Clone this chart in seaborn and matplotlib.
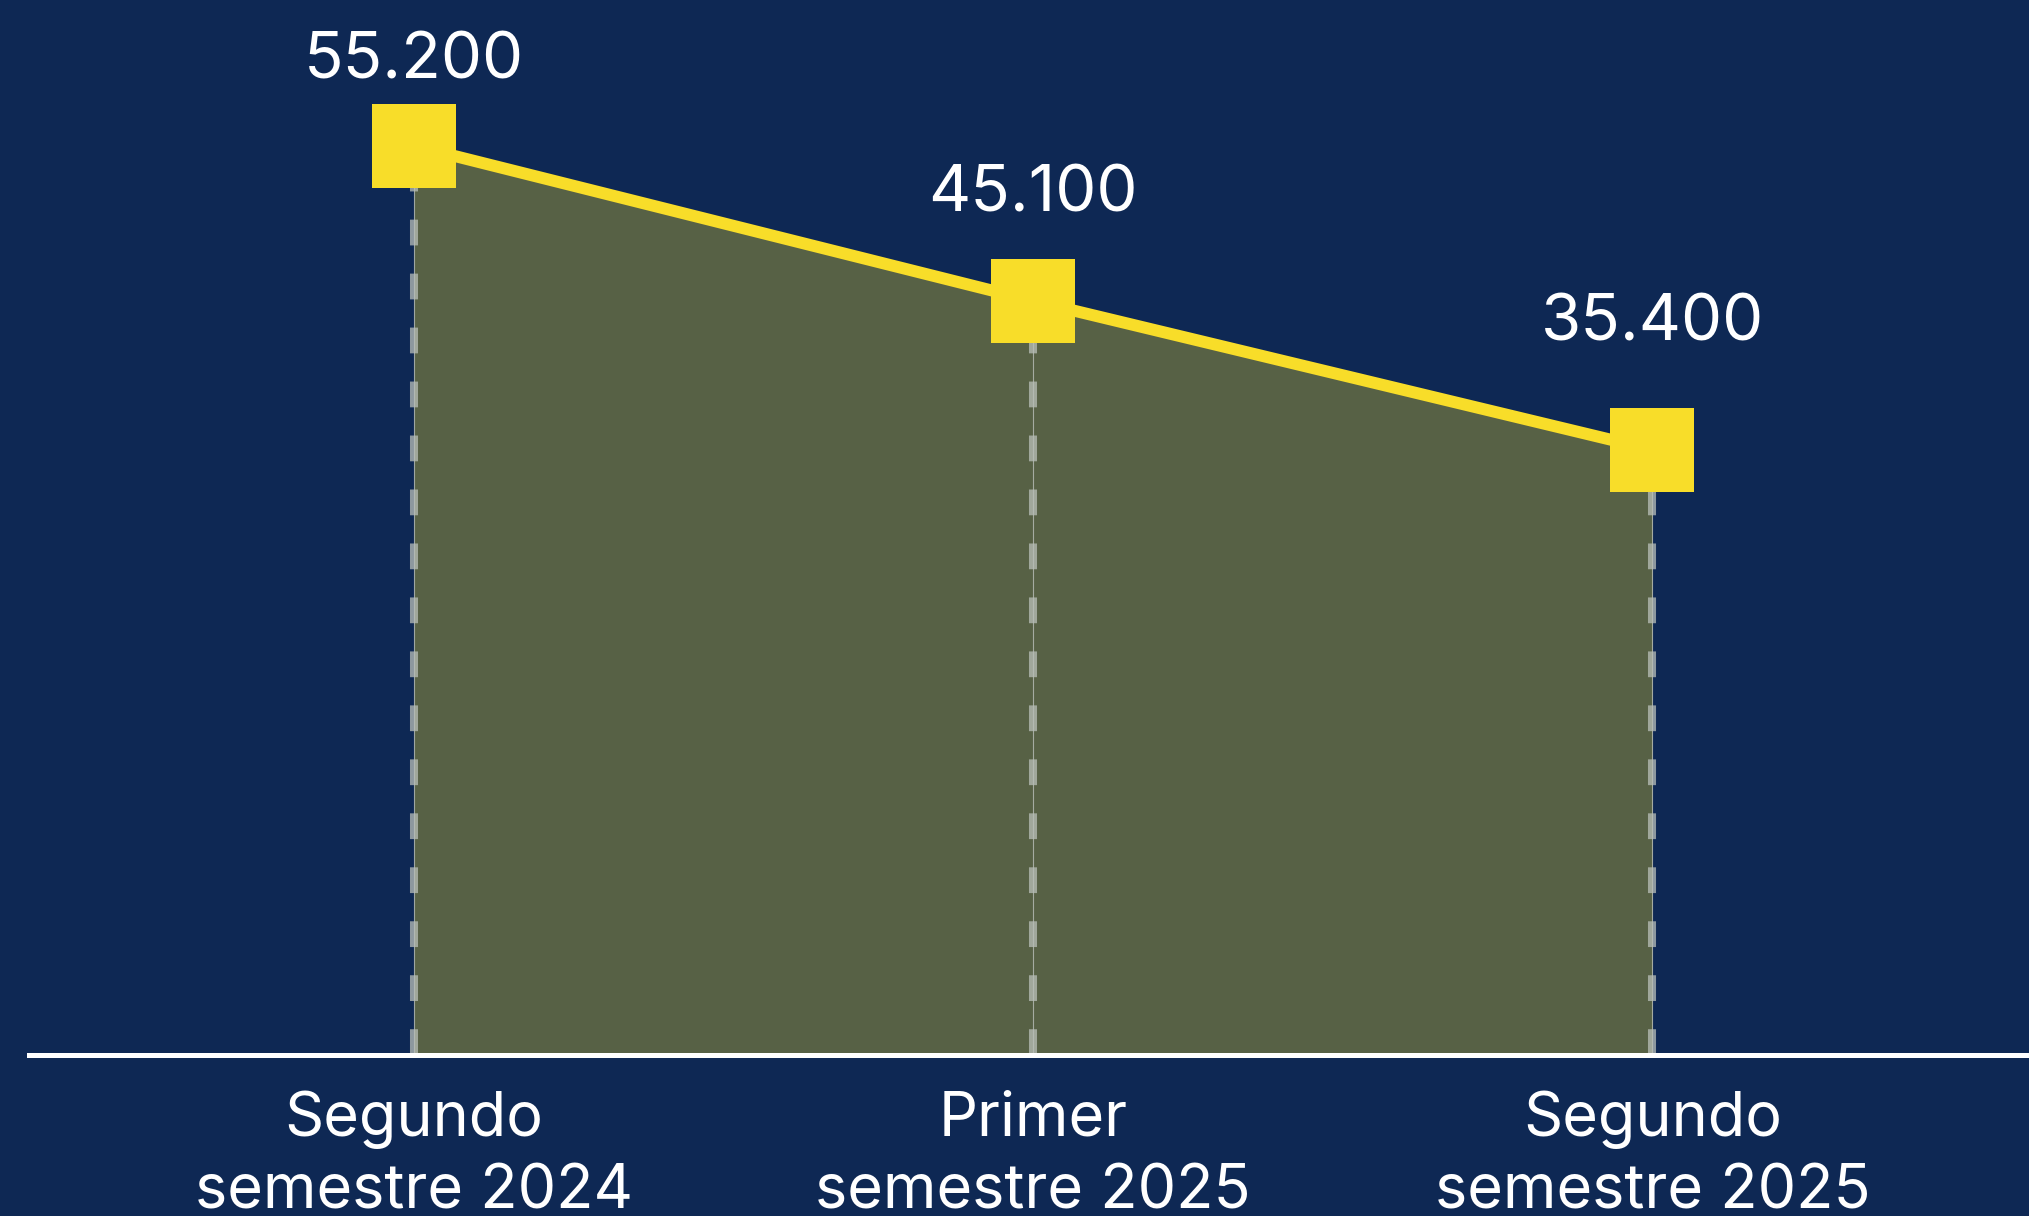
import matplotlib
matplotlib.use('Agg')
import matplotlib.pyplot as plt
import seaborn as sns
import pandas as pd

# datos
periodos = ['Segundo\nsemestre 2024', 'Primer\nsemestre 2025', 'Segundo\nsemestre 2025']
valores = [55200, 45100, 35400]
etiquetas = ['55.200', '45.100', '35.400']

# estilo
bg = '#0e2854'
yellow = '#f8dd29'
fill_color = '#576145'
dash_color = '#b9bfb9'
label_dy = [84, 106, 126]  # separación de la etiqueta sobre el punto (px)

sns.set_theme(style='white')
plt.rcParams['font.family'] = ['Inter', 'DejaVu Sans']

df = pd.DataFrame({'periodo': periodos, 'valor': valores})
df['pos'] = range(len(df))

fig = plt.figure(figsize=(20.29, 12.16), dpi=100, facecolor=bg)
ax = fig.add_axes([29 / 2029, 0.1328, 1 - 29 / 2029, 1 - 0.1328])
ax.set_facecolor(bg)
ax.set_xlim(-0.6217, 2.608)
ax.set_ylim(-4000, 64700)
floor = ax.get_ylim()[0]

# area bajo la curva
ax.fill_between(df['pos'], df['valor'], floor, color=fill_color, lw=0, zorder=1)

# guias verticales discontinuas
ax.vlines(df['pos'], floor, df['valor'], color=dash_color, lw=0.8, alpha=0.8, zorder=2)
ax.vlines(df['pos'], floor, df['valor'], color=dash_color, lw=5.8,
          linestyles=(0, (3.2, 3.5)), alpha=0.75, zorder=2)

sns.lineplot(data=df, x='pos', y='valor', color=yellow, lw=8.6, marker='s',
             markersize=60, markeredgewidth=0, ax=ax, zorder=3)

for pos, val, txt, dy in zip(df['pos'], df['valor'], etiquetas, label_dy):
    ax.annotate(txt, (pos, val), xytext=(0, dy), textcoords='offset pixels',
                ha='center', va='center', color='white', fontsize=47, zorder=4)

ax.set_xticks(df['pos'])
ax.set_xticklabels(df['periodo'], color='white', fontsize=44, linespacing=1.32)
ax.set_yticks([])
ax.tick_params(axis='x', length=0, pad=26)
ax.set_xlabel('')
ax.set_ylabel('')

for side in ['top', 'right', 'left']:
    ax.spines[side].set_visible(False)
ax.spines['bottom'].set_color('white')
ax.spines['bottom'].set_linewidth(3.6)
ax.spines['bottom'].set_zorder(5)

fig.savefig('out.png', dpi=100, facecolor=bg)
